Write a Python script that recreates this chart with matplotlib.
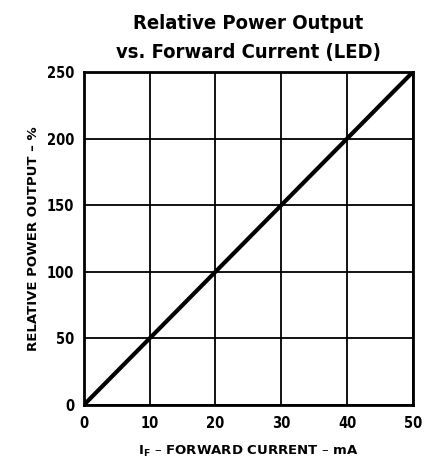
import matplotlib.pyplot as plt

plt.rcParams['font.family'] = ['DejaVu Sans']

current = [0, 10, 20, 30, 40, 50]
power = [0, 50, 100, 150, 200, 250]
xticks = [0, 10, 20, 30, 40, 50]
yticks = [0, 50, 100, 150, 200, 250]

fig = plt.figure(figsize=(4.35, 4.59), dpi=100)
ax = fig.add_axes([0.193, 0.118, 0.756, 0.725])

ax.plot(current, power, color='black', lw=3, solid_capstyle='butt')

ax.set_xlim(0, 50)
ax.set_ylim(0, 250)
ax.set_xticks(xticks)
ax.set_yticks(yticks)
ax.grid(True, color='black', lw=1.3)
ax.tick_params(length=0, labelsize=10.5)
ax.tick_params(axis='x', pad=8)
ax.tick_params(axis='y', pad=7)
for lab in ax.get_xticklabels() + ax.get_yticklabels():
    lab.set_fontweight('bold')
    lab.set_fontstretch('condensed')
for s in ax.spines.values():
    s.set_linewidth(2)

ax.set_xlabel('I$_\\mathregular{F}$ – FORWARD CURRENT – mA', fontsize=9.5,
              fontweight='bold', labelpad=9)
ax.set_ylabel('RELATIVE POWER OUTPUT – %', fontsize=9.5, fontweight='bold',
              labelpad=5)
ax.set_title('Relative Power Output\nvs. Forward Current (LED)', fontsize=14.5,
             fontweight='bold', fontstretch='condensed', pad=10, linespacing=1.65)

fig.savefig('out.png')
